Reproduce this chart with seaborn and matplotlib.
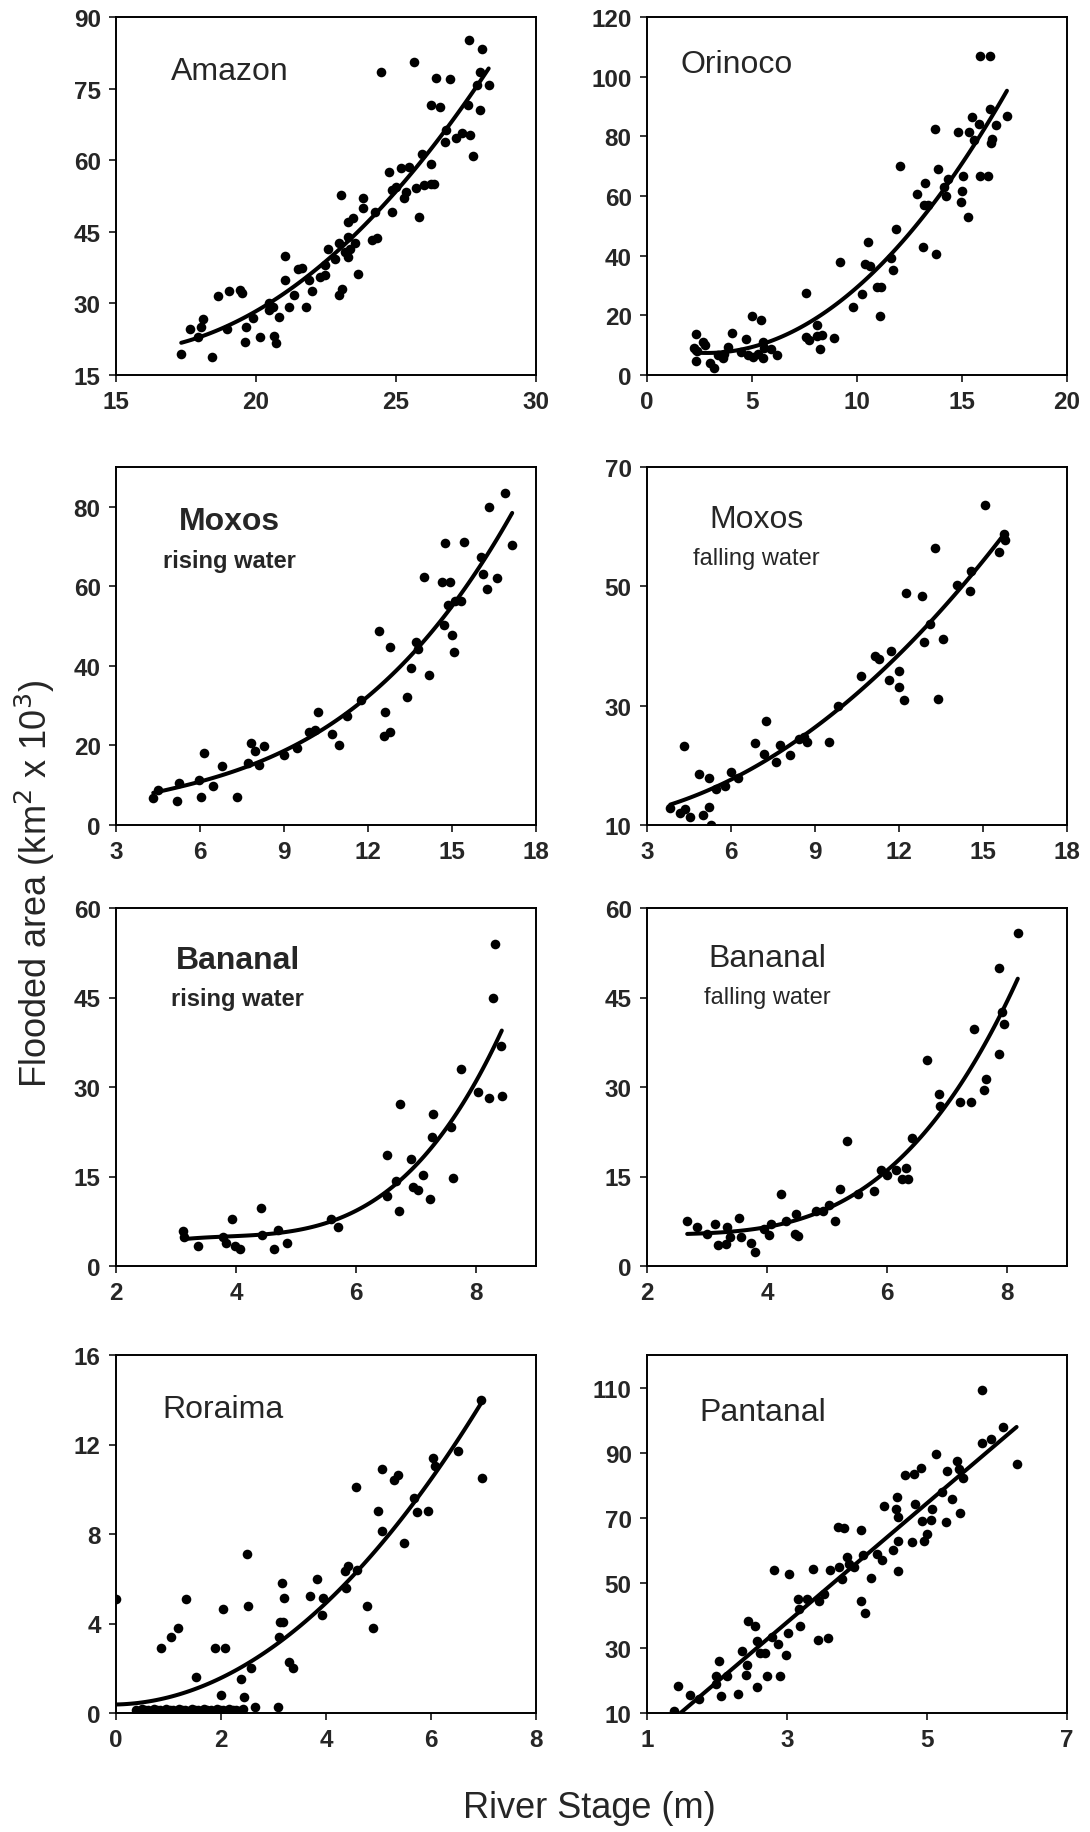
import seaborn as sns
import matplotlib.pyplot as plt

# values (river stage in m, flooded area in km2 x 10^3)
amazon_x = [17.33, 17.63, 18.11, 18.05, 17.93, 18.44, 18.65, 19.05, 18.98, 19.44, 19.5, 19.64,
            19.62, 19.88, 20.13, 20.46, 20.46, 20.59, 20.65, 20.73, 20.83, 21.04, 21.04, 21.19,
            21.37, 21.49, 21.64, 21.8, 21.88, 22.0, 22.27, 22.45, 22.48, 22.58, 22.82, 22.96,
            23.03, 22.96, 23.06, 23.18, 23.28, 23.3, 23.48, 23.3, 23.36, 23.54, 23.64, 23.82,
            23.82, 24.15, 24.33, 24.26, 24.48, 24.75, 24.84, 24.87, 24.99, 25.17, 25.29, 25.35,
            25.47, 25.71, 25.65, 25.83, 25.93, 26.01, 26.25, 26.25, 26.37, 26.25, 26.56, 26.44,
            26.92, 26.74, 26.8, 27.16, 27.34, 27.64, 27.58, 27.74, 28.0, 27.62, 28.06, 28.0,
            27.88, 28.31]
amazon_y = [19.5, 24.6, 26.7, 25.1, 23.0, 18.8, 31.5, 32.7, 24.6, 32.8, 32.2, 25.0,
            22.0, 26.9, 23.0, 30.0, 28.6, 29.3, 23.2, 21.8, 27.2, 39.9, 34.9, 29.3,
            31.7, 37.3, 37.5, 29.3, 34.9, 32.6, 35.6, 38.0, 35.9, 41.5, 39.4, 42.6,
            52.8, 31.7, 33.1, 40.8, 44.0, 47.1, 47.8, 39.8, 41.5, 42.6, 36.1, 52.0,
            50.0, 43.3, 43.6, 49.2, 78.5, 57.6, 49.2, 53.7, 54.4, 58.3, 52.0, 53.4,
            58.6, 54.1, 80.6, 48.1, 61.4, 54.8, 59.3, 55.1, 55.1, 71.5, 71.2, 77.2,
            77.1, 63.8, 66.3, 64.7, 65.6, 65.2, 71.5, 60.8, 70.6, 85.1, 83.4, 78.5,
            75.7, 75.7]

orinoco_x = [2.31, 2.25, 2.31, 2.36, 2.67, 2.75, 2.99, 3.19, 3.38, 3.62, 3.69, 3.85, 4.04,
             4.48, 4.72, 4.8, 5.0, 5.03, 5.27, 5.42, 5.5, 5.5, 5.58, 5.9, 6.21, 7.55, 7.55,
             7.7, 8.1, 8.1, 8.25, 8.33, 8.92, 9.2, 9.83, 10.22, 10.38, 10.5, 10.61, 11.08,
             10.96, 11.16, 11.71, 11.64, 11.84, 12.06, 12.86, 13.13, 13.18, 13.25, 13.36,
             13.73, 13.76, 13.84, 14.15, 14.23, 14.31, 14.83, 14.94, 14.98, 15.06, 15.3,
             15.33, 15.46, 15.57, 15.88, 16.35, 15.8, 15.88, 16.24, 16.32, 16.43, 16.4,
             16.62, 17.14]
orinoco_y = [13.8, 9.1, 4.6, 8.0, 11.1, 10.2, 3.9, 2.4, 6.6, 5.8, 6.9, 9.4, 14.0,
             7.7, 12.2, 6.6, 19.7, 6.1, 7.2, 18.3, 5.8, 11.1, 9.1, 8.8, 6.6, 27.4, 12.7,
             11.6, 16.8, 13.1, 8.8, 13.5, 12.5, 37.9, 22.9, 27.3, 37.1, 44.6, 36.7, 19.7,
             29.5, 29.5, 35.1, 39.3, 49.0, 70.0, 60.8, 42.9, 57.0, 64.4, 57.0,
             82.4, 40.7, 69.1, 63.1, 60.0, 65.8, 81.3, 58.1, 61.6, 66.7, 53.1,
             81.5, 86.6, 78.8, 107.0, 107.0, 84.1, 66.7, 66.7, 89.0, 79.1, 77.8,
             83.7, 86.8]

moxos_rise_x = [4.33, 4.49, 5.18, 5.26, 5.98, 6.04, 6.16, 6.48, 6.79, 7.33, 7.73, 7.83, 7.95,
                8.1, 8.28, 9.0, 9.47, 9.91, 10.09, 10.21, 10.72, 10.95, 11.25, 11.76, 12.38,
                12.59, 12.56, 12.8, 12.77, 13.39, 13.52, 13.73, 13.79, 13.99, 14.17, 14.66,
                14.74, 14.72, 14.92, 14.86, 15.01, 15.07, 15.1, 15.31, 15.43, 16.02, 16.11,
                16.25, 16.33, 16.62, 16.91, 17.15]
moxos_rise_y = [6.9, 8.8, 6.0, 10.5, 11.3, 7.1, 18.2, 9.9, 14.9, 7.1, 15.5, 20.6, 18.5,
                15.1, 19.9, 17.5, 19.3, 23.3, 23.8, 28.3, 22.8, 20.0, 27.5, 31.5, 48.7,
                28.4, 22.5, 23.3, 44.8, 32.3, 39.5, 46.0, 44.2, 62.3, 37.6, 61.1,
                70.8, 50.2, 61.1, 55.4, 47.7, 43.5, 56.3, 56.3, 71.2, 67.4, 63.1,
                59.4, 79.9, 62.0, 83.5, 70.5]

moxos_fall_x = [3.83, 4.19, 4.37, 4.55, 4.33, 4.85, 5.0, 5.23, 5.23, 5.3, 5.46, 5.8, 6.01,
                6.25, 6.87, 7.19, 7.26, 7.62, 7.74, 8.12, 8.42, 8.6, 8.71, 9.49, 9.82, 10.64,
                11.15, 11.27, 11.63, 11.71, 12.01, 12.01, 12.17, 12.25, 12.82, 12.88, 13.12,
                13.27, 13.38, 13.57, 14.07, 14.55, 14.58, 15.06, 15.56, 15.74, 15.8]
moxos_fall_y = [12.8, 12.0, 12.7, 11.4, 23.2, 18.6, 11.7, 13.1, 17.8, 10.0, 16.0, 16.5, 18.9,
                17.8, 23.8, 21.9, 27.4, 20.5, 23.4, 21.8, 24.4, 24.8, 23.9, 23.9, 30.0, 34.9,
                38.4, 37.9, 34.3, 39.1, 35.8, 33.1, 31.0, 48.8, 48.3, 40.6, 43.7,
                56.5, 31.1, 41.2, 50.3, 49.3, 52.6, 63.6, 55.7, 58.8, 57.7]

bananal_rise_x = [3.11, 3.14, 3.36, 3.78, 3.84, 3.94, 3.99, 4.07, 4.41, 4.44, 4.64, 4.7, 4.85,
                  5.59, 5.7, 6.51, 6.52, 6.71, 6.66, 6.73, 6.91, 6.95, 7.04, 7.12, 7.24, 7.26,
                  7.28, 7.59, 7.61, 7.75, 8.04, 8.21, 8.31, 8.29, 8.42, 8.43]
bananal_rise_y = [5.8, 4.8, 3.4, 4.8, 3.8, 7.9, 3.4, 2.8, 9.7, 5.2, 2.8, 6.1, 3.9,
                  7.8, 6.5, 18.6, 11.8, 9.3, 14.2, 27.2, 18.0, 13.3, 12.8, 15.2, 11.3, 21.7,
                  25.5, 23.3, 14.7, 33.1, 29.2, 28.2, 53.9, 45.0, 36.8, 28.5]

bananal_fall_x = [2.67, 2.83, 3.0, 3.13, 3.18, 3.31, 3.33, 3.39, 3.54, 3.56, 3.74, 3.8, 3.95,
                  4.03, 4.07, 4.23, 4.32, 4.46, 4.49, 4.52, 4.82, 4.93, 5.04, 5.14, 5.22, 5.34,
                  5.52, 5.78, 5.9, 6.0, 6.15, 6.25, 6.32, 6.35, 6.42, 6.66, 6.87, 6.88, 7.21,
                  7.4, 7.45, 7.62, 7.65, 7.86, 7.86, 7.92, 7.95, 8.18]
bananal_fall_y = [7.5, 6.5, 5.3, 7.1, 3.6, 3.7, 6.5, 4.9, 8.1, 4.8, 3.8, 2.3, 6.2,
                  5.2, 7.1, 12.1, 7.5, 5.3, 8.7, 5.0, 9.3, 9.2, 10.3, 7.6, 12.9, 21.0,
                  12.0, 12.5, 16.1, 15.2, 16.1, 14.5, 16.5, 14.5, 21.4, 34.5, 28.9, 26.8, 27.5,
                  27.5, 39.8, 29.5, 31.4, 35.6, 49.9, 42.5, 40.5, 55.8]

roraima_x = [0.0, 0.86, 1.04, 1.18, 1.34, 1.52, 1.89, 2.08, 2.03, 2.0, 2.39, 2.44, 2.5, 2.52,
             2.58, 2.65, 3.09, 3.11, 3.12, 3.18, 3.16, 3.2, 3.29, 3.38, 3.7, 3.83, 3.92, 3.94,
             4.38, 4.36, 4.41, 4.59, 4.58, 4.79, 4.9, 4.99, 5.06, 5.07, 5.29, 5.37, 5.48,
             5.67, 5.74, 5.94, 6.03, 6.08, 6.52, 6.95, 6.98,
             0.38, 0.44, 0.5, 0.55, 0.6, 0.66, 0.72, 0.78, 0.84, 0.9, 0.96, 1.02, 1.08,
             1.14, 1.2, 1.26, 1.32, 1.38, 1.44, 1.5, 1.56, 1.62, 1.68, 1.74, 1.8, 1.86,
             1.92, 1.98, 2.04, 2.1, 2.16, 2.22, 2.28, 2.34, 2.42]
roraima_y = [5.1, 2.9, 3.4, 3.8, 5.1, 1.6, 2.9, 2.9, 4.65, 0.8, 1.5, 0.7, 7.1, 4.8,
             2.0, 0.25, 0.25, 3.4, 4.05, 4.05, 5.8, 5.15, 2.3, 2.0, 5.25, 6.0, 4.4, 5.15,
             5.6, 6.35, 6.55, 6.4, 10.1, 4.8, 3.8, 9.05, 8.15, 10.9, 10.4, 10.65, 7.6,
             9.6, 9.0, 9.05, 11.4, 11.05, 11.7, 14.0, 10.5,
             0.15, 0.1, 0.2, 0.12, 0.15, 0.1, 0.2, 0.12, 0.15, 0.1, 0.2, 0.12, 0.15,
             0.1, 0.2, 0.12, 0.15, 0.1, 0.2, 0.12, 0.15, 0.1, 0.2, 0.12, 0.15, 0.1,
             0.2, 0.12, 0.15, 0.1, 0.2, 0.12, 0.15, 0.1, 0.2]

pantanal_x = [1.39, 1.44, 1.62, 1.74, 1.98, 1.99, 2.03, 2.05, 2.14, 2.3, 2.36, 2.41, 2.43, 2.44,
              2.54, 2.57, 2.57, 2.62, 2.69, 2.72, 2.79, 2.81, 2.87, 2.9, 2.99, 3.01, 3.03, 3.16,
              3.19, 3.17, 3.29, 3.37, 3.44, 3.46, 3.53, 3.58, 3.62, 3.73, 3.81, 3.74, 3.79,
              3.86, 3.89, 3.95, 4.06, 4.08, 4.06, 4.11, 4.2, 4.29, 4.36, 4.39, 4.52, 4.55,
              4.57, 4.58, 4.59, 4.58, 4.69, 4.79, 4.81, 4.83, 4.91, 4.93, 4.96, 5.0, 5.05,
              5.07, 5.13, 5.22, 5.27, 5.29, 5.35, 5.43, 5.46, 5.47, 5.52, 5.78, 5.79, 5.91,
              6.09, 6.28]
pantanal_y = [10.7, 18.3, 15.5, 14.4, 21.4, 18.8, 26.1, 15.2, 21.4, 15.7, 28.9, 21.7, 24.7, 38.2,
              36.6, 18.1, 32.1, 28.4, 28.4, 21.4, 33.5, 54.0, 31.2, 21.4, 27.9, 34.6, 52.8, 44.9,
              36.6, 42.1, 44.9, 54.2, 32.5, 44.4, 46.6, 33.1, 53.8, 67.2, 66.7, 54.8, 51.1,
              58.0, 55.9, 54.8, 66.3, 58.4, 44.4, 40.6, 51.5, 59.0, 56.9, 73.7, 60.1, 72.7,
              76.5, 70.1, 62.8, 53.7, 83.1, 62.5, 83.3, 74.2, 85.3, 69.1, 62.8, 65.1, 69.4,
              72.7, 89.5, 77.9, 68.8, 84.3, 75.8, 87.4, 85.1, 71.5, 82.2, 109.2, 92.9, 94.1,
              97.8, 86.4]

panels = [
    dict(x=amazon_x, y=amazon_y, order=2, xlim=(15, 30), xticks=[15, 20, 25, 30],
         ylim=(15, 90), yticks=[15, 30, 45, 60, 75, 90], title="Amazon", sub=None,
         tpos=(0.13, 0.85), bold=False),
    dict(x=orinoco_x, y=orinoco_y, order=2, xlim=(0, 20), xticks=[0, 5, 10, 15, 20],
         ylim=(0, 120), yticks=[0, 20, 40, 60, 80, 100, 120], title="Orinoco", sub=None,
         tpos=(0.08, 0.87), bold=False),
    dict(x=moxos_rise_x, y=moxos_rise_y, order=3, xlim=(3, 18), xticks=[3, 6, 9, 12, 15, 18],
         ylim=(0, 90), yticks=[0, 20, 40, 60, 80], title="Moxos", sub="rising water",
         tpos=(0.27, 0.85), bold=True),
    dict(x=moxos_fall_x, y=moxos_fall_y, order=2, xlim=(3, 18), xticks=[3, 6, 9, 12, 15, 18],
         ylim=(10, 70), yticks=[10, 30, 50, 70], title="Moxos", sub="falling water",
         tpos=(0.26, 0.855), bold=False),
    dict(x=bananal_rise_x, y=bananal_rise_y, order=3, xlim=(2, 9), xticks=[2, 4, 6, 8],
         ylim=(0, 60), yticks=[0, 15, 30, 45, 60], title="Bananal", sub="rising water",
         tpos=(0.29, 0.856), bold=True),
    dict(x=bananal_fall_x, y=bananal_fall_y, order=3, xlim=(2, 9), xticks=[2, 4, 6, 8],
         ylim=(0, 60), yticks=[0, 15, 30, 45, 60], title="Bananal", sub="falling water",
         tpos=(0.287, 0.86), bold=False),
    dict(x=roraima_x, y=roraima_y, order=2, xlim=(0, 8), xticks=[0, 2, 4, 6, 8],
         ylim=(0, 16), yticks=[0, 4, 8, 12, 16], title="Roraima", sub=None,
         tpos=(0.11, 0.85), bold=False),
    dict(x=pantanal_x, y=pantanal_y, order=1, xlim=(1, 7), xticks=[1, 3, 5, 7],
         ylim=(10, 120), yticks=[10, 30, 50, 70, 90, 110], title="Pantanal", sub=None,
         tpos=(0.124, 0.84), bold=False),
]

sns.set_style("ticks")
plt.rcParams['font.family'] = ['Liberation Sans', 'DejaVu Sans']

W, H = 1090, 1833
fig = plt.figure(figsize=(W / 100, H / 100), dpi=100)

col_left = [116, 647]
row_top = [18, 468, 909, 1356]
aw, ah = 420, 358

for i, p in enumerate(panels):
    r, c = divmod(i, 2)
    ax = fig.add_axes([col_left[c] / W, 1 - (row_top[r] + ah) / H, aw / W, ah / H])
    sns.regplot(x=p["x"], y=p["y"], order=p["order"], ci=None, ax=ax, color="black",
                scatter_kws=dict(s=48, linewidths=0, alpha=1),
                line_kws=dict(lw=2.9, color="black"))
    ax.set_xlim(*p["xlim"])
    ax.set_ylim(*p["ylim"])
    ax.set_xticks(p["xticks"])
    ax.set_yticks(p["yticks"])
    ax.tick_params(direction="out", length=5, width=1.3, labelsize=17.5, pad=6)
    for lab in ax.get_xticklabels() + ax.get_yticklabels():
        lab.set_fontweight("bold")
    for s in ax.spines.values():
        s.set_linewidth(1.4)
        s.set_color("black")
        s.set_visible(True)
    tx, ty = p["tpos"]
    w = "bold" if p["bold"] else "normal"
    if p["sub"] is None:
        ax.text(tx, ty, p["title"], transform=ax.transAxes, fontsize=23,
                ha="left", va="center")
    else:
        ax.text(tx, ty, p["title"], transform=ax.transAxes, fontsize=23,
                ha="center", va="center", fontweight=w)
        ax.text(tx, ty - 0.11, p["sub"], transform=ax.transAxes, fontsize=17,
                ha="center", va="center", fontweight=w)

fig.text(0.032, 0.518, "Flooded area (km$^2$ x 10$^3$)", rotation=90, fontsize=26,
         ha="center", va="center")
fig.text(0.541, 0.0135, "River Stage (m)", fontsize=26, ha="center", va="center")

fig.savefig("out.png", dpi=100)
